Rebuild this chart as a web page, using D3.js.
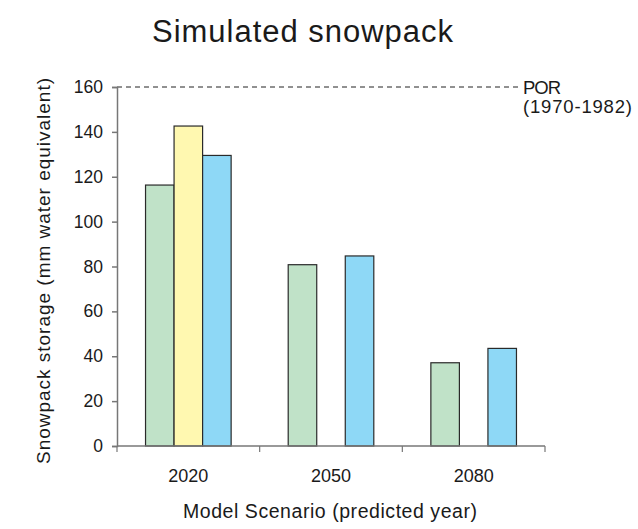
<!DOCTYPE html>
<html><head><meta charset="utf-8">
<script src="https://cdn.jsdelivr.net/npm/d3@7"></script>
<style>body{margin:0;background:#fff}svg{display:block}text{font-family:"Liberation Sans",Arial,sans-serif;fill:#1a1a1a}</style>
</head><body><svg id="c" width="638" height="529"></svg>
<script>
const categories = ["2020","2050","2080"];
const seriesNames = ["s1","s2","s3"];
const seriesColors = ["#c0e2c8","#fff8b0","#8ed8f6"];
const s1 = [116.3, 80.8, 37.1];
const s2 = [142.6, null, null];
const s3 = [129.5, 84.7, 43.5];
const yTicks = [0,20,40,60,80,100,120,140,160];
const porValue = 160;

const svg = d3.select("#c");
const x = d3.scaleBand().domain(categories).range([117,545]).paddingInner(0).paddingOuter(0);
const y = d3.scaleLinear().domain([0,160]).range([446,87]);
const xs = d3.scaleBand().domain(seriesNames).range([0,x.bandwidth()]).paddingInner(0).paddingOuter(1);

const data = [s1,s2,s3];
categories.forEach((c,i)=>{
  data.forEach((s,j)=>{
    if(s[i]==null) return;
    svg.append("rect")
      .attr("x", x(c)+xs(seriesNames[j]))
      .attr("y", y(s[i]))
      .attr("width", xs.bandwidth())
      .attr("height", y(0)-y(s[i]))
      .attr("fill", seriesColors[j])
      .attr("stroke","#2a2a2a").attr("stroke-width",1.2);
  });
});

// dashed POR line
svg.append("line").attr("x1",117).attr("x2",519).attr("y1",y(porValue)).attr("y2",y(porValue))
  .attr("stroke","#222").attr("stroke-width",1).attr("stroke-dasharray","5,4");
svg.append("text").attr("x",523).attr("y",y(porValue)+6.5).attr("font-size",18.5).attr("textLength",38).text("POR");
svg.append("text").attr("x",523).attr("y",y(porValue)+25.5).attr("font-size",18.5).attr("textLength",109).text("(1970-1982)");

// y axis
const ya = svg.append("g").attr("transform","translate(117,0)")
  .call(d3.axisLeft(y).tickValues(yTicks).tickSize(5).tickPadding(9));
ya.selectAll("text").attr("font-size",17.5).style("font-family","Liberation Sans, Arial, sans-serif").attr("fill","#1a1a1a");
ya.selectAll("line,path").attr("stroke","#777").attr("stroke-width",1.5);

// x axis
const xa = svg.append("g").attr("transform",`translate(0,${y(0)})`)
  .call(d3.axisBottom(x).tickSize(0).tickPadding(23));
xa.select("path").remove();
svg.append("line").attr("x1",117).attr("x2",545).attr("y1",y(0)).attr("y2",y(0)).attr("stroke","#777").attr("stroke-width",1.5);
const bounds = categories.map(c=>x(c)).concat([x(categories[categories.length-1])+x.bandwidth()]);
bounds.forEach(b=>svg.append("line").attr("x1",b).attr("x2",b).attr("y1",y(0)).attr("y2",y(0)+6).attr("stroke","#777").attr("stroke-width",1.2));
xa.selectAll("text").attr("font-size",18).style("font-family","Liberation Sans, Arial, sans-serif").attr("fill","#1a1a1a");

svg.append("text").attr("x",302.5).attr("y",42).attr("text-anchor","middle").attr("font-size",31).attr("textLength",301).text("Simulated snowpack");
svg.append("text").attr("x",330).attr("y",518).attr("text-anchor","middle").attr("font-size",19.5).attr("textLength",294).text("Model Scenario (predicted year)");
svg.append("text").attr("transform","translate(50,271) rotate(-90)").attr("text-anchor","middle").attr("font-size",19).attr("textLength",386).text("Snowpack storage (mm water equivalent)");
</script></body></html>
